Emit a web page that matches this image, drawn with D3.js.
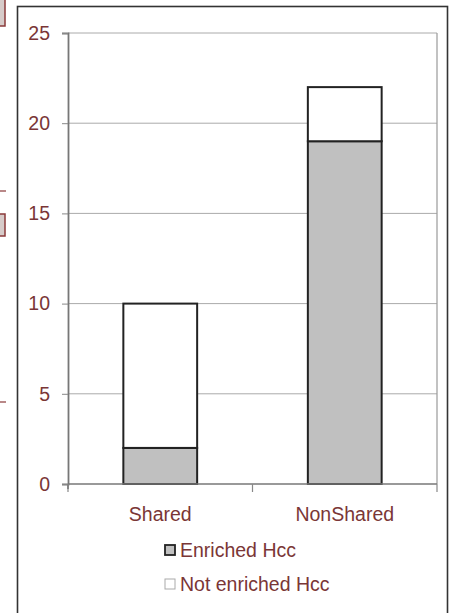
<!DOCTYPE html>
<html>
<head>
<meta charset="utf-8">
<script src="https://cdn.jsdelivr.net/npm/d3@7"></script>
<style>
  html, body { margin: 0; padding: 0; background: #fff; }
  svg { display: block; font-family: "Liberation Sans", Arial, Helvetica, sans-serif; }
</style>
</head>
<body>
<svg id="chart" width="453" height="613"></svg>
<script>
const categories = ["Shared", "NonShared"];
const enriched = [2, 19];
const notEnriched = [8, 3];
const seriesNames = ["Enriched Hcc", "Not enriched Hcc"];
const yTicks = [0, 5, 10, 15, 20, 25];

const textColor = "#7a3636";
const fontSize = 19.5;
const svg = d3.select("#chart");

// fragments of neighbouring figure at left edge
svg.append("rect").attr("x", -4).attr("y", -2).attr("width", 9).attr("height", 28)
  .attr("fill", "#d6cbc9").attr("stroke", "#8a3a3a").attr("stroke-width", 1.5);
svg.append("rect").attr("x", -4).attr("y", 214).attr("width", 9).attr("height", 22)
  .attr("fill", "#d6cbc9").attr("stroke", "#8a3a3a").attr("stroke-width", 1.5);
svg.append("line").attr("x1", 0).attr("x2", 6).attr("y1", 191).attr("y2", 191)
  .attr("stroke", "#8a3a3a").attr("stroke-width", 1.2);
svg.append("line").attr("x1", 0).attr("x2", 6).attr("y1", 402).attr("y2", 402)
  .attr("stroke", "#8a3a3a").attr("stroke-width", 1.2);

// outer frame
svg.append("rect").attr("x", 17.5).attr("y", 6.5).attr("width", 430).attr("height", 620)
  .attr("fill", "none").attr("stroke", "#333").attr("stroke-width", 1.6);

const plot = { left: 68, right: 437, top: 33, bottom: 484 };

const x = d3.scaleBand().domain(categories).range([plot.left, plot.right]).padding(0);
const y = d3.scaleLinear().domain([0, 25]).range([plot.bottom, plot.top]);

// gridlines
svg.append("g").selectAll("line").data(yTicks.filter(t => t > 0)).join("line")
  .attr("x1", plot.left).attr("x2", plot.right)
  .attr("y1", d => y(d)).attr("y2", d => y(d))
  .attr("stroke", "#aaa").attr("stroke-width", 1);

// plot area right border
svg.append("line").attr("x1", plot.right).attr("x2", plot.right)
  .attr("y1", plot.top).attr("y2", plot.bottom)
  .attr("stroke", "#999").attr("stroke-width", 1.2);

// y axis
const yAxis = d3.axisLeft(y).tickValues(yTicks).tickSize(6).tickPadding(12);
const gy = svg.append("g").attr("transform", `translate(${plot.left},0)`).call(yAxis);
gy.select(".domain").attr("stroke", "#777").attr("stroke-width", 1.8);
gy.selectAll(".tick line").attr("stroke", "#888");
gy.selectAll(".tick text").attr("fill", textColor).attr("font-size", fontSize)
  .attr("font-family", "Liberation Sans, Arial, sans-serif");
svg.append("line").attr("x1", plot.left).attr("x2", plot.left)
  .attr("y1", plot.bottom).attr("y2", plot.bottom + 5)
  .attr("stroke", "#777").attr("stroke-width", 1.8);

// bars
const barW = x.bandwidth() * 0.4;
const g = svg.append("g");
categories.forEach((c, i) => {
  const cx = x(c) + x.bandwidth() / 2;
  g.append("rect").attr("x", cx - barW / 2).attr("y", y(enriched[i]))
    .attr("width", barW).attr("height", y(0) - y(enriched[i]))
    .attr("fill", "#c0c0c0").attr("stroke", "#222").attr("stroke-width", 2);
  g.append("rect").attr("x", cx - barW / 2).attr("y", y(enriched[i] + notEnriched[i]))
    .attr("width", barW).attr("height", y(enriched[i]) - y(enriched[i] + notEnriched[i]))
    .attr("fill", "#fff").attr("stroke", "#222").attr("stroke-width", 2);
});

// x axis
const gx = svg.append("g").attr("transform", `translate(0,${plot.bottom})`);
gx.append("line").attr("x1", plot.left).attr("x2", plot.right).attr("y1", 0).attr("y2", 0)
  .attr("stroke", "#777").attr("stroke-width", 1.5);
const bounds = [x(categories[0]), x(categories[1]), x(categories[1]) + x.bandwidth()];
gx.selectAll("line.tk").data(bounds).join("line").attr("class", "tk")
  .attr("x1", d => d).attr("x2", d => d).attr("y1", 0).attr("y2", 8)
  .attr("stroke", "#888").attr("stroke-width", 1.2);
gx.selectAll("text").data(categories).join("text")
  .attr("x", d => x(d) + x.bandwidth() / 2).attr("y", 37)
  .attr("text-anchor", "middle").attr("fill", textColor).attr("font-size", fontSize)
  .text(d => d);

// legend
const legend = svg.append("g");
const legendFills = ["#c0c0c0", "#fff"];
const legendStrokes = ["#222", "#aaa"];
seriesNames.forEach((s, i) => {
  const ly = 545 + i * 34;
  legend.append("rect").attr("x", 165).attr("y", ly).attr("width", 10).attr("height", 10)
    .attr("fill", legendFills[i]).attr("stroke", legendStrokes[i]).attr("stroke-width", i === 0 ? 1.8 : 1);
  legend.append("text").attr("x", 180).attr("y", ly + 12)
    .attr("fill", textColor).attr("font-size", fontSize).text(s);
});
</script>
</body>
</html>
